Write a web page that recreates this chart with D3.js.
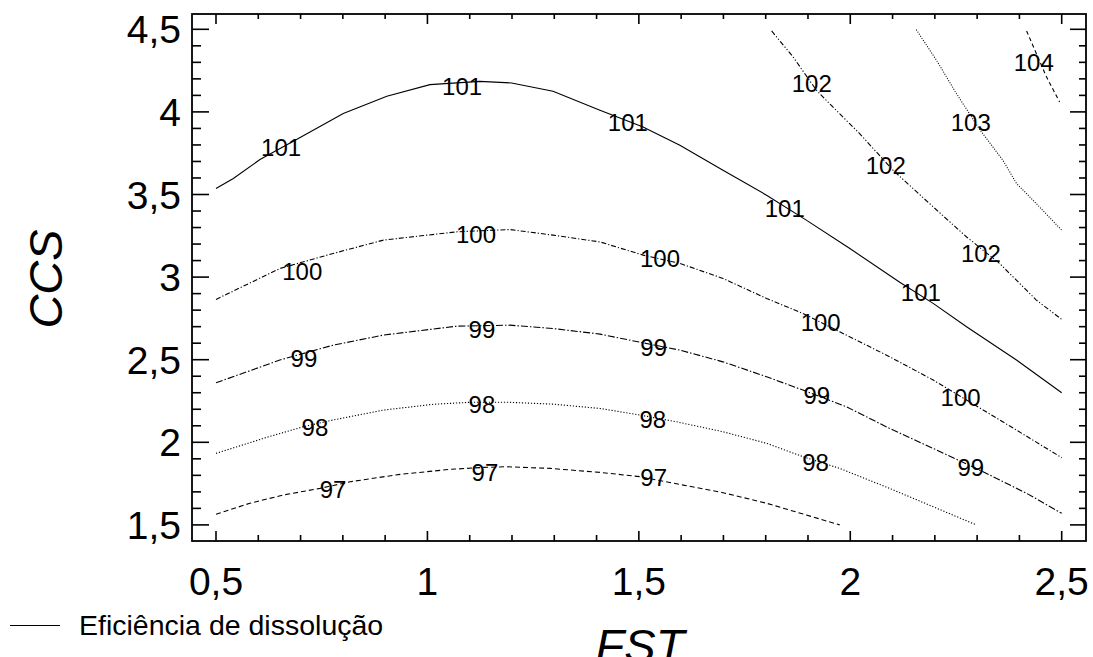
<!DOCTYPE html>
<html>
<head>
<meta charset="utf-8">
<script src="https://cdn.jsdelivr.net/npm/d3@7"></script>
<style>
  html, body { margin: 0; padding: 0; background: #fff; }
  svg { display: block; font-family: "Liberation Sans", Arial, Helvetica, sans-serif; }
</style>
</head>
<body>
<svg id="chart" width="1093" height="657"></svg>
<script>
// ---- data (FST, CCS) pairs for each contour level ----
const contour97 = [[0.5,1.564],[0.58,1.631],[0.659,1.681],[0.746,1.721],[0.817,1.761],[0.935,1.806],[1.053,1.836],[1.132,1.848],[1.187,1.852],[1.29,1.842],[1.408,1.818],[1.502,1.792],[1.605,1.741],[1.699,1.695],[1.802,1.631],[1.896,1.56],[1.975,1.5]];
const contour98 = [[0.5,1.933],[0.62,2.03],[0.706,2.094],[0.777,2.135],[0.896,2.195],[1.014,2.23],[1.1,2.242],[1.195,2.242],[1.297,2.231],[1.408,2.205],[1.502,2.165],[1.589,2.124],[1.699,2.064],[1.802,1.994],[1.888,1.913],[1.975,1.842],[2.093,1.721],[2.196,1.61],[2.298,1.5]];
const contour99 = [[0.5,2.36],[0.651,2.498],[0.777,2.588],[0.896,2.649],[1.069,2.703],[1.195,2.709],[1.297,2.689],[1.408,2.655],[1.51,2.602],[1.597,2.558],[1.699,2.487],[1.802,2.397],[1.888,2.316],[1.991,2.215],[2.093,2.084],[2.196,1.963],[2.314,1.822],[2.417,1.691],[2.5,1.57]];
const contour100 = [[0.5,2.865],[0.651,3.052],[0.777,3.143],[0.896,3.224],[1.069,3.274],[1.195,3.288],[1.297,3.254],[1.408,3.213],[1.51,3.133],[1.597,3.083],[1.699,2.992],[1.802,2.871],[1.888,2.78],[1.975,2.669],[2.093,2.518],[2.196,2.377],[2.275,2.256],[2.393,2.074],[2.5,1.907]];
const contour101 = [[0.5,3.536],[0.541,3.597],[0.604,3.712],[0.699,3.845],[0.801,3.99],[0.904,4.095],[1.006,4.165],[1.124,4.185],[1.199,4.175],[1.297,4.125],[1.408,4.01],[1.51,3.909],[1.597,3.798],[1.699,3.647],[1.802,3.496],[1.896,3.345],[1.999,3.173],[2.117,2.969],[2.196,2.841],[2.275,2.699],[2.393,2.498],[2.5,2.3]];
const contour102 = [[1.814,4.49],[1.865,4.332],[1.92,4.131],[1.951,4.05],[2.022,3.869],[2.101,3.647],[2.196,3.425],[2.275,3.243],[2.353,3.083],[2.44,2.861],[2.5,2.744]];
const contour103 = [[2.156,4.498],[2.204,4.312],[2.251,4.111],[2.306,3.894],[2.361,3.707],[2.393,3.567],[2.432,3.466],[2.5,3.284]];
const contour104 = [[2.417,4.49],[2.44,4.353],[2.464,4.212],[2.495,4.06]];

// contour label positions [FST, CCS, level]
const contourLabels = [
  [0.654,3.783,"101"],[1.082,4.155,"101"],[1.474,3.934,"101"],[1.845,3.417,"101"],[2.167,2.909,"101"],
  [0.704,3.036,"100"],[1.115,3.26,"100"],[1.55,3.115,"100"],[1.93,2.724,"100"],[2.261,2.274,"100"],
  [0.708,2.508,"99"],[1.129,2.685,"99"],[1.535,2.576,"99"],[1.921,2.286,"99"],[2.285,1.847,"99"],
  [0.734,2.092,"98"],[1.129,2.231,"98"],[1.533,2.135,"98"],[1.918,1.877,"98"],
  [0.777,1.717,"97"],[1.136,1.817,"97"],[1.535,1.784,"97"],
  [1.909,4.173,"102"],[2.084,3.677,"102"],[2.309,3.145,"102"],
  [2.285,3.934,"103"],
  [2.434,4.30,"104"]
];

const xTickValues = [0.5,1,1.5,2,2.5];
const xTickLabels = ["0,5","1","1,5","2","2,5"];
const yTickValues = [1.5,2,2.5,3,3.5,4,4.5];
const yTickLabels = ["1,5","2","2,5","3","3,5","4","4,5"];
const xTitle = "FST";
const yTitle = "CCS";
const legendLabel = "Eficiência de dissolução";

// ---- drawing ----
const svg = d3.select("#chart");
const x = d3.scaleLinear().domain([0.5,2.5]).range([216,1061.7]);
const y = d3.scaleLinear().domain([1.5,4.5]).range([524.9,29.3]);
const frame = {left:192, right:1086, top:14, bottom:541};

const series = [
  {data: contour97, dash: "5,3"},
  {data: contour98, dash: "1.2,1.8"},
  {data: contour99, dash: "7,2,1.5,2"},
  {data: contour100, dash: "5,2,1.2,2"},
  {data: contour101, dash: null},
  {data: contour102, dash: "5,2,1.2,2,1.2,2"},
  {data: contour103, dash: "1,1.5"},
  {data: contour104, dash: "4,3"}
];

const line = d3.line().x(d => x(d[0])).y(d => y(d[1]));
svg.append("g").selectAll("path").data(series).join("path")
  .attr("d", d => line(d.data))
  .attr("fill","none").attr("stroke","#000").attr("stroke-width",1.1)
  .attr("stroke-dasharray", d => d.dash);

svg.append("g").selectAll("text").data(contourLabels).join("text")
  .attr("x", d => x(d[0])).attr("y", d => y(d[1]))
  .attr("text-anchor","middle").attr("dominant-baseline","central")
  .attr("font-size",24).attr("fill","#000")
  .text(d => d[2]);

// frame
svg.append("rect").attr("x",frame.left).attr("y",frame.top)
  .attr("width",frame.right-frame.left).attr("height",frame.bottom-frame.top)
  .attr("fill","none").attr("stroke","#000").attr("stroke-width",1.8);

// ticks
const xMinor = d3.range(5,26).map(v => v/10);
const yMinor = d3.range(15,46).map(v => v/10);
const isMajor = v => Math.abs(v*2 - Math.round(v*2)) < 1e-6;
const tg = svg.append("g").attr("stroke","#000").attr("stroke-width",1.6);
xMinor.forEach(v => {
  const L = isMajor(v) ? 10 : 6;
  tg.append("line").attr("x1",x(v)).attr("x2",x(v)).attr("y1",frame.bottom).attr("y2",frame.bottom-L);
  tg.append("line").attr("x1",x(v)).attr("x2",x(v)).attr("y1",frame.top).attr("y2",frame.top+(isMajor(v)?10:5));
});
yMinor.forEach(v => {
  tg.append("line").attr("y1",y(v)).attr("y2",y(v)).attr("x1",frame.left).attr("x2",frame.left+(isMajor(v)?17:9));
  tg.append("line").attr("y1",y(v)).attr("y2",y(v)).attr("x1",frame.right).attr("x2",frame.right-(isMajor(v)?16:7));
});

// tick labels
svg.append("g").selectAll("text").data(xTickValues).join("text")
  .attr("x", d => x(d)).attr("y", 595)
  .attr("text-anchor","middle").attr("font-size",39)
  .text((d,i) => xTickLabels[i]);
svg.append("g").selectAll("text").data(yTickValues).join("text")
  .attr("x", 181).attr("y", d => y(d) + 14)
  .attr("text-anchor","end").attr("font-size",39)
  .text((d,i) => yTickLabels[i]);

// axis titles
svg.append("text").attr("transform","translate(62,279) rotate(-90)")
  .attr("text-anchor","middle").attr("font-size",47).attr("font-style","italic")
  .text(yTitle);
svg.append("text").attr("x",640).attr("y",662)
  .attr("text-anchor","middle").attr("font-size",47).attr("font-style","italic")
  .text(xTitle);

// legend
svg.append("line").attr("x1",10).attr("x2",60).attr("y1",625.5).attr("y2",625.5)
  .attr("stroke","#000").attr("stroke-width",1);
svg.append("text").attr("x",79).attr("y",635).attr("font-size",28.5).text(legendLabel);
</script>
</body>
</html>
